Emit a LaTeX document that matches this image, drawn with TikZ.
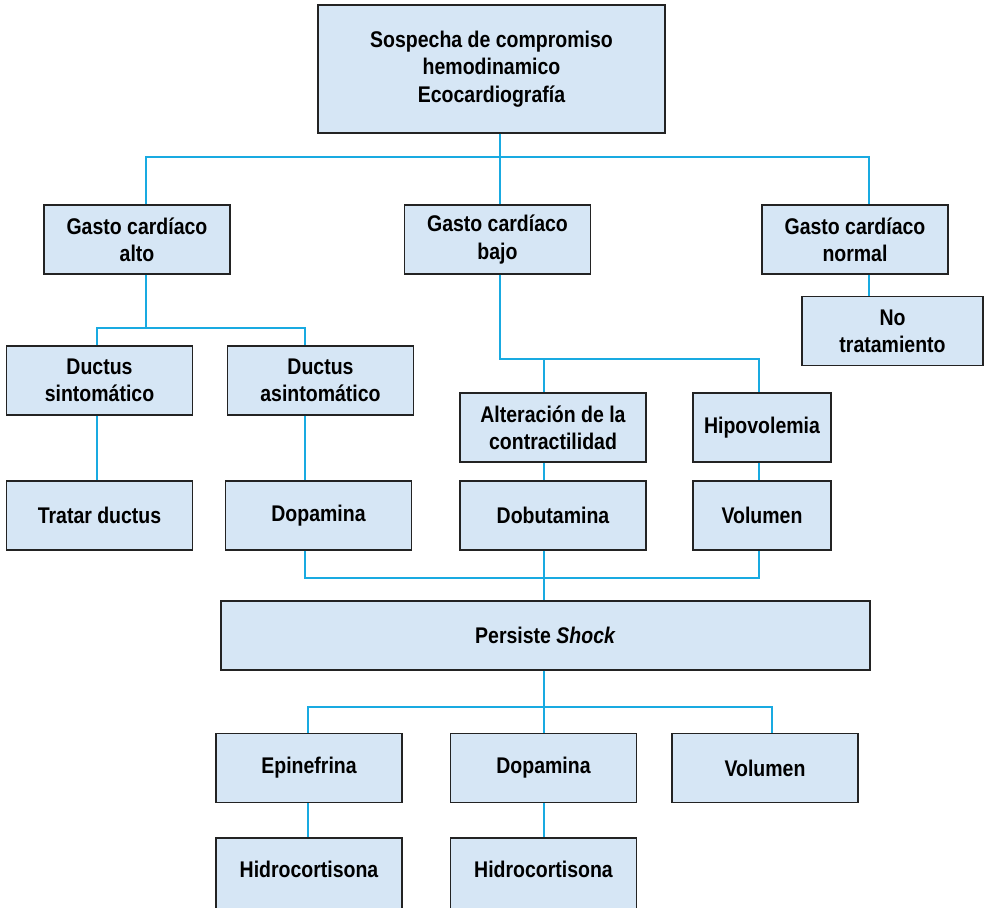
\documentclass[tikz,border=0pt]{standalone}
\usepackage{fontspec}
\setmainfont{Liberation Sans}[FakeStretch=0.86]
\usetikzlibrary{positioning,calc}
\definecolor{boxfill}{RGB}{214,230,245}
\definecolor{boxline}{RGB}{35,35,35}
\definecolor{linkblue}{RGB}{25,170,225}
\tikzset{
  % caja básica
  box/.style={
    draw=boxline,
    line width=1.1pt,
    fill=boxfill,
    align=center,
    inner sep=2pt,
    text=black,
    font=\fontsize{17}{20.5}\selectfont\bfseries
  },
  % tamaños de caja
  std/.style={box, minimum width=139.5pt, minimum height=51.75pt},
  narrow/.style={box, minimum width=103.5pt, minimum height=51.75pt},
  % conectores
  link/.style={linkblue, line width=1.5pt},
}
\begin{document}
\begin{tikzpicture}[x=0.75pt, y=-0.75pt]
    \useasboundingbox (0,0) rectangle (985,907);

    % Raíz
    \node[box, minimum width=260.25pt, minimum height=96pt] (top) at (491.5,69) {Sospecha de compromiso\\hemodinamico\\Ecocardiografía};

    % Gasto cardíaco
    \node[std] (gca) at (137,239.5) {Gasto cardíaco\\alto};
    \node[std] (gcb) at (497.5,239.5) {Gasto cardíaco\\bajo};
    \node[std] (gcn) at (855,239.5) {Gasto cardíaco\\normal};
    \node[box, minimum width=135.75pt, minimum height=51.75pt] (notrat) at (892.5,331) {No\\tratamiento};

    % Rama alto
    \node[std] (dsin) at (99.5,380.5) {Ductus\\sintomático};
    \node[std] (dasin) at (320.5,380.5) {Ductus\\asintomático};
    \node[std] (tratar) at (99.5,515.5) {Tratar ductus};
    \node[std] (dopa) at (318.5,515.5) {Dopamina};

    % Rama bajo
    \node[std] (alter) at (553,427.5) {Alteración de la\\contractilidad};
    \node[narrow] (hipo) at (762,427.5) {Hipovolemia};
    \node[std] (dobu) at (553,515.5) {Dobutamina};
    \node[narrow] (volu) at (762,515.5) {Volumen};

    % Persiste shock
    \node[box, minimum width=486.75pt, minimum height=51.75pt] (shock) at (545.5,635.5) {Persiste \textit{Shock}};
    \node[std] (epi) at (309,768) {Epinefrina};
    \node[std] (dopa2) at (543.5,768) {Dopamina};
    \node[std] (volu2) at (765,768) {Volumen};
    \node[std, minimum height=54pt, text depth=7pt] (hidro1) at (309,874) {Hidrocortisona};
    \node[std, minimum height=54pt, text depth=7pt] (hidro2) at (543.5,874) {Hidrocortisona};

    % Puntos de unión
    \coordinate (j1) at (500,157);
    \coordinate (j1l) at (146,157);
    \coordinate (j1r) at (869,157);
    \coordinate (j2) at (146,328);
    \coordinate (j2l) at (97,328);
    \coordinate (j2r) at (305,328);
    \coordinate (j3) at (500,359);
    \coordinate (j3l) at (544,359);
    \coordinate (j3r) at (759,359);
    \coordinate (j4) at (544,578);
    \coordinate (j4l) at (305,578);
    \coordinate (j4r) at (759,578);
    \coordinate (j5) at (544,707);
    \coordinate (j5l) at (308,707);
    \coordinate (j5r) at (772,707);

    % Primer nivel
    \draw[link] (top.south -| j1) -- (j1);
    \draw[link] (gca.north -| j1l) -- (j1l) -- (j1r) -- (gcn.north -| j1r);
    \draw[link] (j1) -- (gcb.north -| j1);
    \draw[link] (gcn.south -| j1r) -- (notrat.north -| j1r);

    % Gasto alto
    \draw[link] (gca.south -| j2) -- (j2);
    \draw[link] (dsin.north -| j2l) -- (j2l) -- (j2r) -- (dasin.north -| j2r);
    \draw[link] (dsin.south -| j2l) -- (tratar.north -| j2l);
    \draw[link] (dasin.south -| j2r) -- (dopa.north -| j2r);

    % Gasto bajo
    \draw[link] (gcb.south -| j3) -- (j3) -- (j3r) -- (hipo.north -| j3r);
    \draw[link] (j3l) -- (alter.north -| j3l);
    \draw[link] (alter.south -| j3l) -- (dobu.north -| j3l);
    \draw[link] (hipo.south -| j3r) -- (volu.north -| j3r);

    % Reunión
    \draw[link] (dopa.south -| j4l) -- (j4l) -- (j4r) -- (volu.south -| j4r);
    \draw[link] (dobu.south -| j4) -- (shock.north -| j4);

    % Persiste shock
    \draw[link] (shock.south -| j5) -- (j5);
    \draw[link] (epi.north -| j5l) -- (j5l) -- (j5r) -- (volu2.north -| j5r);
    \draw[link] (j5) -- (dopa2.north -| j5);
    \draw[link] (epi.south -| j5l) -- (hidro1.north -| j5l);
    \draw[link] (dopa2.south -| j5) -- (hidro2.north -| j5);
\end{tikzpicture}
\end{document}
